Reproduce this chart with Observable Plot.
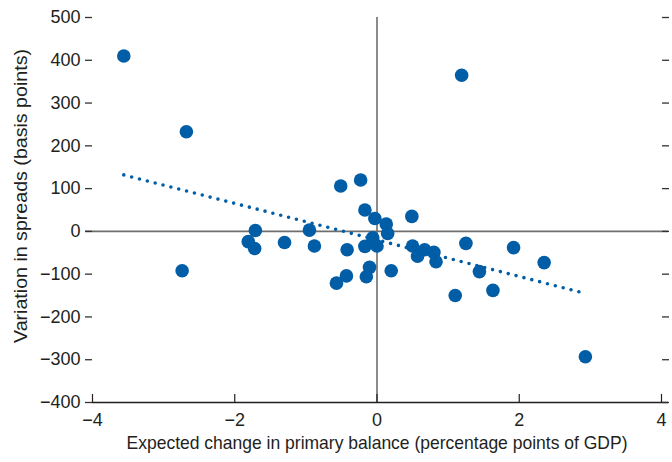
<!DOCTYPE html>
<html>
<head>
<meta charset="utf-8">
<script src="https://cdn.jsdelivr.net/npm/d3@7"></script>
<script src="https://cdn.jsdelivr.net/npm/@observablehq/plot@0.6"></script>
<style>
  html, body { margin: 0; padding: 0; background: #fff; }
  #chart svg { display: block; }
</style>
</head>
<body>
<div id="chart"></div>
<script>
const pointX = [-3.56, -2.68, -2.74, -1.81, -1.72, -1.71, -1.30, -0.95, -0.88, -0.57,
                -0.51, -0.43, -0.42, -0.23, -0.17, -0.17, -0.15, -0.105, -0.06, -0.03,
                0.00, 0.13, 0.15, 0.20, 0.49, 0.50, 0.57, 0.67, 0.80, 0.83,
                1.10, 1.19, 1.25, 1.44, 1.63, 1.92, 2.35, 2.93];
const pointY = [410, 233, -92, -24, -40, 2, -26, 3, -34, -121,
                106, -104, -43, 120, 50, -35, -106, -84, -15, 30,
                -34, 17, -5, -92, 35, -34, -58, -43, -49, -71,
                -150, 365, -28, -94, -138, -38, -73, -293];
const trendX = [-3.56, 2.93];
const trendY = [132, -145];
const xTicks = [-4, -2, 0, 2, 4];
const yTicks = [-400, -300, -200, -100, 0, 100, 200, 300, 400, 500];
const xLabel = "Expected change in primary balance (percentage points of GDP)";
const yLabel = "Variation in spreads (basis points)";

const points = pointX.map((x, i) => ({x, y: pointY[i]}));
const trend = trendX.map((x, i) => ({x, y: trendY[i]}));

const blue = "#005DA6";
const ink = "#231f20";

const chart = Plot.plot({
  width: 672,
  height: 462,
  marginLeft: 92,
  marginRight: 11,
  marginTop: 17,
  marginBottom: 60,
  style: {
    fontFamily: "'Liberation Sans', Arial, sans-serif",
    fontSize: "18px",
    color: ink,
    background: "#fff"
  },
  x: {domain: [-4, 4]},
  y: {domain: [-400, 500]},
  marks: [
    Plot.ruleY([0], {stroke: "#6e6e6e", strokeWidth: 1.6, insetLeft: -7, insetRight: -7}),
    Plot.ruleX([0], {stroke: "#6e6e6e", strokeWidth: 1.6}),
    Plot.ruleY([-400], {stroke: ink, strokeWidth: 1.5, insetRight: -7}),
    Plot.ruleX(xTicks, {stroke: ink, strokeWidth: 1.2, insetTop: 377}),
    Plot.axisY(yTicks, {anchor: "left", tickSize: 7, tickPadding: 5, stroke: "#333", strokeWidth: 1.3, fill: ink, fontSize: 18, label: null}),
    Plot.axisY(yTicks, {anchor: "right", tickSize: 7, tickPadding: 0, stroke: "#333", strokeWidth: 1.3, tickFormat: () => "", label: null}),
    Plot.axisX(xTicks, {anchor: "bottom", tickSize: 0, tickPadding: 11, fill: ink, fontSize: 18, label: null}),
    Plot.text([xLabel], {frameAnchor: "bottom", dy: 46, fill: ink, fontSize: 18.5}),
    Plot.text([yLabel], {frameAnchor: "left", textAnchor: "middle", rotate: -90, dx: -71, dy: -14, fill: ink, fontSize: 18.5}),
    Plot.dot(points, {x: "x", y: "y", r: 6.8, fill: blue}),
    Plot.line(trend, {x: "x", y: "y", stroke: blue, strokeWidth: 3.6, strokeDasharray: "0 8.1", strokeLinecap: "round"})
  ]
});
chart.querySelectorAll("text").forEach(t => {
  if (t.textContent === xLabel) {
    t.setAttribute("textLength", 501);
    t.setAttribute("lengthAdjust", "spacingAndGlyphs");
  } else if (t.textContent === yLabel) {
    t.setAttribute("textLength", 294);
    t.setAttribute("lengthAdjust", "spacingAndGlyphs");
  }
});
document.getElementById("chart").appendChild(chart);
</script>
</body>
</html>
